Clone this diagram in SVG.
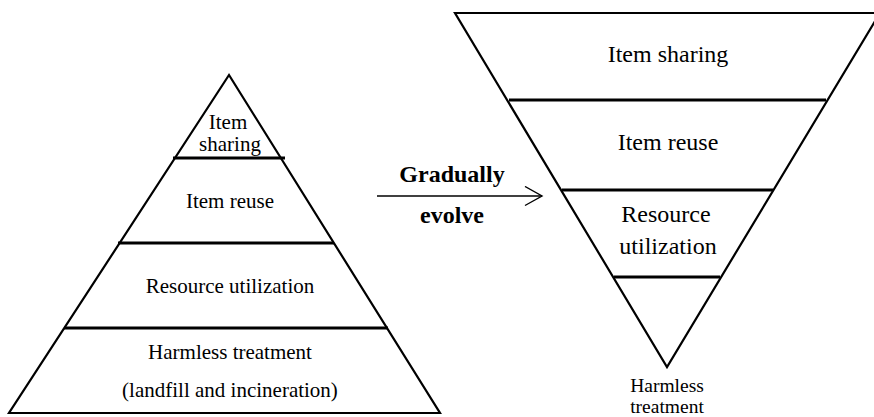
<svg xmlns="http://www.w3.org/2000/svg" width="874" height="417" viewBox="0 0 874 417">
  <style>
    .edge { fill: none; stroke: #000; stroke-width: 2.2; stroke-linejoin: miter; }
    .div { stroke: #000; stroke-width: 2.8; }
    .t { font-family: "Liberation Serif", "DejaVu Serif", "Times New Roman", serif; fill: #000; text-anchor: middle; }
    .l { font-size: 21px; }
    .r { font-size: 24px; }
    .s { font-size: 19.5px; }
    .b { font-size: 24px; font-weight: bold; }
    .conn { fill: none; stroke: #000; stroke-width: 1.4; }
  </style>
  <defs>
    <marker id="open-arrow" markerUnits="userSpaceOnUse" markerWidth="24" markerHeight="24" refX="18" refY="10" orient="auto">
      <path d="M1,0.5 L18,10 L1,19.5" fill="none" stroke="#000" stroke-width="1.4"/>
    </marker>
  </defs>

  <!-- Left pyramid -->
  <g id="left-pyramid">
    <polygon class="edge" points="229,75 9,413 440,413"/>
    <g id="left-item-sharing">
      <text class="t l" x="228" y="129">Item</text>
      <text class="t l" x="230" y="151">sharing</text>
    </g>
    <g id="left-item-reuse">
      <line class="div" x1="173" y1="158" x2="285" y2="158"/>
      <text class="t l" x="230" y="208">Item reuse</text>
    </g>
    <g id="left-resource-utilization">
      <line class="div" x1="118" y1="243" x2="334" y2="243"/>
      <text class="t l" x="230" y="293">Resource utilization</text>
    </g>
    <g id="left-harmless-treatment">
      <line class="div" x1="64" y1="328" x2="388" y2="328"/>
      <text class="t l" x="230" y="359">Harmless treatment</text>
      <text class="t l" x="230" y="397">(landfill and incineration)</text>
    </g>
  </g>

  <!-- Right inverted pyramid -->
  <g id="right-pyramid">
    <polygon class="edge" points="455,13 880,13 667,367"/>
    <g id="right-item-sharing">
      <text class="t r" x="668" y="62">Item sharing</text>
    </g>
    <g id="right-item-reuse">
      <line class="div" x1="509" y1="100" x2="826" y2="100"/>
      <text class="t r" x="668" y="150">Item reuse</text>
    </g>
    <g id="right-resource-utilization">
      <line class="div" x1="562" y1="190" x2="773" y2="190"/>
      <text class="t r" x="666" y="222">Resource</text>
      <text class="t r" x="668" y="254">utilization</text>
    </g>
    <g id="right-harmless-treatment">
      <line class="div" x1="614" y1="277" x2="720" y2="277"/>
      <text class="t s" x="667" y="392">Harmless</text>
      <text class="t s" x="667" y="413">treatment</text>
    </g>
  </g>

  <!-- Connectors -->
  <g id="connectors">
    <line class="conn" x1="377" y1="196" x2="542" y2="196" marker-end="url(#open-arrow)"/>
    <text class="t b" x="452" y="182">Gradually</text>
    <text class="t b" x="452" y="223">evolve</text>
  </g>
</svg>
